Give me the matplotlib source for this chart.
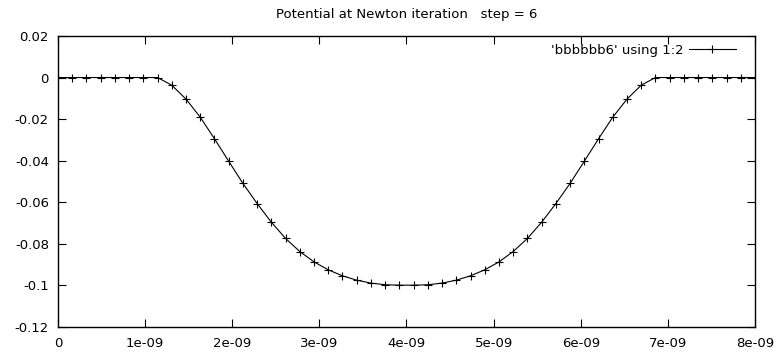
import matplotlib
matplotlib.use("Agg")
import matplotlib.pyplot as plt
import numpy as np

# potential profile (50 samples on 0..8e-9)
xPos = np.linspace(0, 8e-9, 50)
potential = [
    0.0, 0.0, 0.0, 0.0, 0.0, 0.0, 0.0, 0.0,
    -0.0037, -0.0104, -0.0191, -0.0295, -0.0403, -0.0510, -0.0607, -0.0697,
    -0.0775, -0.0838, -0.0888, -0.0926, -0.0955, -0.0976, -0.0990, -0.0998,
    -0.1000, -0.1000,
    -0.0998, -0.0990, -0.0976, -0.0955, -0.0926, -0.0888, -0.0838, -0.0775,
    -0.0697, -0.0607, -0.0510, -0.0403, -0.0295, -0.0191, -0.0104, -0.0037,
    0.0, 0.0, 0.0, 0.0, 0.0, 0.0, 0.0, 0.0,
]
xTicks = [0, 1e-9, 2e-9, 3e-9, 4e-9, 5e-9, 6e-9, 7e-9, 8e-9]
xTickLabels = ["0", "1e-09", "2e-09", "3e-09", "4e-09", "5e-09", "6e-09", "7e-09", "8e-09"]
yTicks = [0.02, 0, -0.02, -0.04, -0.06, -0.08, -0.1, -0.12]
yTickLabels = ["0.02", "0", "-0.02", "-0.04", "-0.06", "-0.08", "-0.1", "-0.12"]

plt.rcParams['font.family'] = ['DejaVu Sans']
fs = 9.5

fig = plt.figure(figsize=(7.79, 3.52), dpi=100)
ax = fig.add_axes([58/779, 1 - 326.7/352, (755 - 58)/779, (326.7 - 36)/352])

ax.plot(xPos, potential, color='black', linewidth=0.8, marker='+',
        markersize=6, markeredgewidth=0.8, label="'bbbbbb6' using 1:2")

ax.set_xlim(0, 8e-9)
ax.set_ylim(-0.12, 0.02)
ax.set_xticks(xTicks)
ax.set_xticklabels(xTickLabels)
ax.set_yticks(yTicks)
ax.set_yticklabels(yTickLabels)
ax.tick_params(direction='in', length=6, width=0.8, top=True, right=True,
               labelsize=fs)
ax.tick_params(axis='x', pad=7.5)
ax.tick_params(axis='y', pad=6.5)
for s in ax.spines.values():
    s.set_linewidth(1.0)

ax.set_title("Potential at Newton iteration   step = 6", fontsize=fs, pad=13)
ax.legend(loc='upper right', bbox_to_anchor=((736 - 58)/697, (326.7 - 44)/290.7),
          frameon=False, markerfirst=False, fontsize=fs, borderaxespad=0,
          borderpad=0, handlelength=3.6, handletextpad=0.4)

fig.savefig("out.png", dpi=100)
